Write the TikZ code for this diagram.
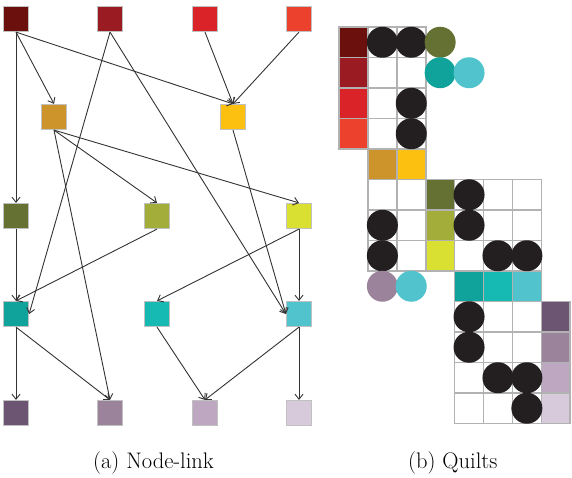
\documentclass[tikz,border=0pt]{standalone}
\usetikzlibrary{arrows.meta}
\definecolor{cAa}{RGB}{108,16,14}
\definecolor{cAb}{RGB}{155,27,35}
\definecolor{cAc}{RGB}{218,35,40}
\definecolor{cAd}{RGB}{235,65,45}
\definecolor{cBa}{RGB}{204,148,42}
\definecolor{cBb}{RGB}{252,192,16}
\definecolor{cCa}{RGB}{100,113,50}
\definecolor{cCb}{RGB}{163,173,58}
\definecolor{cCc}{RGB}{218,224,50}
\definecolor{cDa}{RGB}{15,163,155}
\definecolor{cDb}{RGB}{22,186,178}
\definecolor{cDc}{RGB}{80,195,205}
\definecolor{cEa}{RGB}{108,85,115}
\definecolor{cEb}{RGB}{155,131,155}
\definecolor{cEc}{RGB}{190,167,192}
\definecolor{cEd}{RGB}{215,202,218}
\definecolor{dot}{RGB}{35,31,32}
\definecolor{quiltgray}{RGB}{178,178,178}
\tikzset{
	sq/.style={draw=quiltgray!80, line width=1.2pt, minimum size=25pt, inner sep=0pt},
	lnk/.style={draw=black!80, line width=0.9pt, -{Straight Barb[length=5pt,width=8pt]}},
	captxt/.style={font=\fontsize{22.5}{27}\selectfont, anchor=base west, inner sep=0pt}
}
\def\quiltdot(#1,#2)#3{\fill[#3] (#1+0.5,#2+0.5) circle (15.5pt);}

\begin{document}
\begin{tikzpicture}[x=1pt,y=-1pt]
		\useasboundingbox (0,0) rectangle (572,478);
		%%%%% NODE-LINK %%%%%
		\node[sq, fill=cAa] (a1) at (16,19) {};
		\node[sq, fill=cAb] (a2) at (110,19) {};
		\node[sq, fill=cAc] (a3) at (205,19) {};
		\node[sq, fill=cAd] (a4) at (299,19) {};
		
		\node[sq, fill=cBa] (b1) at (54,117) {};
		\node[sq, fill=cBb] (b2) at (233,117) {};
		
		\node[sq, fill=cCa] (c1) at (16,216) {};
		\node[sq, fill=cCb] (c2) at (157,216) {};
		\node[sq, fill=cCc] (c3) at (299,216) {};
		
		\node[sq, fill=cDa] (d1) at (16,314) {};
		\node[sq, fill=cDb] (d2) at (157,314) {};
		\node[sq, fill=cDc] (d3) at (299,314) {};
		
		\node[sq, fill=cEa] (e1) at (16,413) {};
		\node[sq, fill=cEb] (e2) at (110,413) {};
		\node[sq, fill=cEc] (e3) at (205,413) {};
		\node[sq, fill=cEd] (e4) at (299,413) {};
		
		\draw[lnk] (a1.south) -- (c1.north);
		\draw[lnk] (a1.south) -- (b1.north);
		\draw[lnk] (a1.south) -- (b2.north);
		\draw[lnk] (a2.south) -- (d1.east);
		\draw[lnk] (a2.south) -- (d3.west);
		\draw[lnk] (a3.south) -- (b2.north);
		\draw[lnk] (a4.south) -- (b2.north);
		\draw[lnk] (b1.south) -- (c2.north);
		\draw[lnk] (b1.south) -- (c3.north);
		\draw[lnk] (b1.south) -- (e2.north);
		\draw[lnk] (b2.south) -- (d3.west);
		\draw[lnk] (c1.south) -- (d1.north);
		\draw[lnk] (c2.south) -- (d1.north);
		\draw[lnk] (c3.south) -- (d2.north);
		\draw[lnk] (c3.south) -- (d3.north);
		\draw[lnk] (d1.south) -- (e1.north);
		\draw[lnk] (d1.south) -- (e2.north);
		\draw[lnk] (d2.south) -- (e3.north);
		\draw[lnk] (d3.south) -- (e3.north);
		\draw[lnk] (d3.south) -- (e4.north);
		
		%%%%% QUILTS %%%%%
		\begin{scope}[shift={(339,27)}, x=28.9pt, y=-30.5pt]
			% coloured cells
			\foreach \c/\r/\col in {0/0/cAa, 0/1/cAb, 0/2/cAc, 0/3/cAd,
				1/4/cBa, 2/4/cBb, 3/5/cCa, 3/6/cCb, 3/7/cCc,
				4/8/cDa, 5/8/cDb, 6/8/cDc,
				7/9/cEa, 7/10/cEb, 7/11/cEc, 7/12/cEd}
				\fill[\col] (\c,\r) rectangle ++(1,1);
			% grid
			\foreach \c in {0,1,2} \foreach \r in {0,...,3}
				\draw[quiltgray, line width=1.6pt] (\c,\r) rectangle ++(1,1);
			\foreach \c in {1,2}
				\draw[quiltgray, line width=1.6pt] (\c,4) rectangle ++(1,1);
			\foreach \c in {1,...,6} \foreach \r in {5,6,7}
				\draw[quiltgray, line width=1.6pt] (\c,\r) rectangle ++(1,1);
			\foreach \c in {4,5,6}
				\draw[quiltgray, line width=1.6pt] (\c,8) rectangle ++(1,1);
			\foreach \c in {4,...,7} \foreach \r in {9,...,12}
				\draw[quiltgray, line width=1.6pt] (\c,\r) rectangle ++(1,1);
			% dots
			\foreach \c/\r in {1/0, 2/0, 2/2, 2/3, 4/5, 1/6, 4/6, 1/7, 5/7, 6/7,
				4/9, 4/10, 5/11, 6/11, 6/12}
				{\quiltdot(\c,\r){dot}}
			\quiltdot(3,0){cCa}
			\quiltdot(3,1){cDa}
			\quiltdot(4,1){cDc}
			\quiltdot(1,8){cEb}
			\quiltdot(2,8){cDc}
		\end{scope}
		
		%%%%% CAPTIONS %%%%%
		\node[captxt] (capa) at (93,468) {(a) Node-link};
		\node[captxt] (capb) at (408,468) {(b) Quilts};
	\end{tikzpicture}
\end{document}
